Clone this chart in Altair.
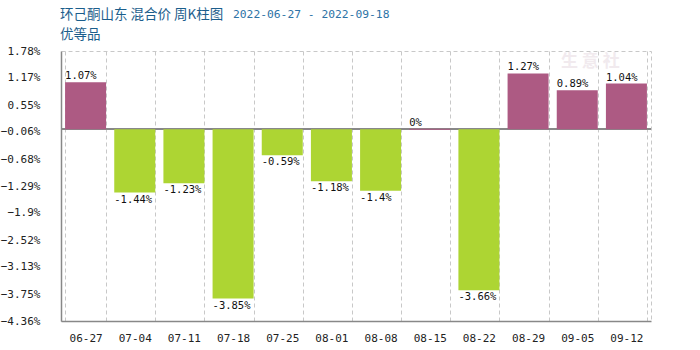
import altair as alt
import pandas as pd

dates = ["06-27", "07-04", "07-11", "07-18", "07-25", "08-01",
         "08-08", "08-15", "08-22", "08-29", "09-05", "09-12"]
values = [1.07, -1.44, -1.23, -3.85, -0.59, -1.18, -1.4, 0, -3.66, 1.27, 0.89, 1.04]
labels = ["1.07%", "-1.44%", "-1.23%", "-3.85%", "-0.59%", "-1.18%",
          "-1.4%", "0%", "-3.66%", "1.27%", "0.89%", "1.04%"]
y_ticks = [1.78, 1.17, 0.55, -0.06, -0.68, -1.29, -1.9, -2.52, -3.13, -3.75, -4.36]

title_main = "环己酮山东 混合价 周K柱图"
title_dates = "2022-06-27 - 2022-09-18"
title_sub = "优等品"
watermark = "生 意 社"

df = pd.DataFrame({"date": dates, "value": values, "label": labels})
df["sign"] = ["pos" if v >= 0 else "neg" for v in values]

MONO = "DejaVu Sans Mono"
CJK = "Noto Sans CJK SC"

x_scale = alt.Scale(paddingInner=0.166, paddingOuter=0.083)
x_enc = alt.X("date:N", sort=dates, title=None, scale=x_scale,
              axis=alt.Axis(labelAngle=0, labelFont=MONO, labelFontSize=11,
                            labelColor="#222", labelPadding=11, ticks=False,
                            domainColor="#888", domainWidth=1.5,
                            grid=True, gridColor="#c8c8c8", gridDash=[4, 3],
                            tickBand="extent", labelOverlap=False))
y_scale = alt.Scale(domain=[-4.36, 1.78], nice=False, zero=False)
color_scale = alt.Scale(domain=["pos", "neg"], range=["#ad5a83", "#add533"])

base = alt.Chart(df)

bars = base.mark_bar().encode(
    x=x_enc,
    y=alt.Y("value:Q", scale=y_scale, title=None,
            axis=alt.Axis(values=y_ticks, tickCount=len(y_ticks) + 2,
                          labelExpr="format(datum.value, '.2~f') + '%'",
                          labelFont=MONO, labelFontSize=11, labelColor="#222",
                          labelPadding=21, ticks=False, domainColor="#888",
                          domainWidth=1.5, gridColor="#c8c8c8", gridDash=[4, 3],
                          labelOverlap=False)),
    y2=alt.datum(0),
    color=alt.Color("sign:N", scale=color_scale, legend=None),
    stroke=alt.Stroke("sign:N", scale=color_scale, legend=None),
    strokeWidth=alt.condition("datum.value == 0", alt.value(1.2), alt.value(0)),
)

zero_rule = base.mark_rule(color="#888", strokeWidth=1.5).encode(
    y=alt.datum(0)
)

label_x = alt.X("date:N", sort=dates, scale=x_scale, bandPosition=0)

pos_text = base.transform_filter("datum.value >= 0").mark_text(
    align="left", baseline="bottom", dy=-1, font=MONO, fontSize=10.5, color="#111"
).encode(x=label_x, y=alt.Y("value:Q", scale=y_scale), text="label:N")

neg_text = base.transform_filter("datum.value < 0").mark_text(
    align="left", baseline="top", dy=2, font=MONO, fontSize=10.5, color="#111"
).encode(x=label_x, y=alt.Y("value:Q", scale=y_scale), text="label:N")

tdf = pd.DataFrame({"a": [0]})
t1 = alt.Chart(tdf).mark_text(align="left", baseline="middle", font=CJK,
                              fontSize=13.5, color="#1b5e8c").encode(
    x=alt.value(-1), y=alt.value(-36), text=alt.datum(title_main))
t2 = alt.Chart(tdf).mark_text(align="left", baseline="middle", font=MONO,
                              fontSize=11.3, color="#2d73a6").encode(
    x=alt.value(172), y=alt.value(-36), text=alt.datum(title_dates))
t3 = alt.Chart(tdf).mark_text(align="left", baseline="middle", font=CJK,
                              fontSize=13.5, color="#1b5e8c").encode(
    x=alt.value(-1), y=alt.value(-16), text=alt.datum(title_sub))
wm = alt.Chart(tdf).mark_text(align="left", baseline="middle", font=CJK,
                              fontSize=17, fontWeight="bold", color="#f1eaee").encode(
    x=alt.value(500), y=alt.value(11), text=alt.datum(watermark))

chart = alt.layer(wm, zero_rule, bars, pos_text, neg_text, t1, t2, t3).properties(
    width=590, height=270,
    autosize=alt.AutoSizeParams(type="none"),
    padding={"left": 61, "top": 51, "right": 49, "bottom": 29},
    background="white",
).configure_view(stroke="#c8c8c8", strokeDash=[4, 3])

chart.save("out.html", embed_options={"renderer": "svg", "actions": False})
